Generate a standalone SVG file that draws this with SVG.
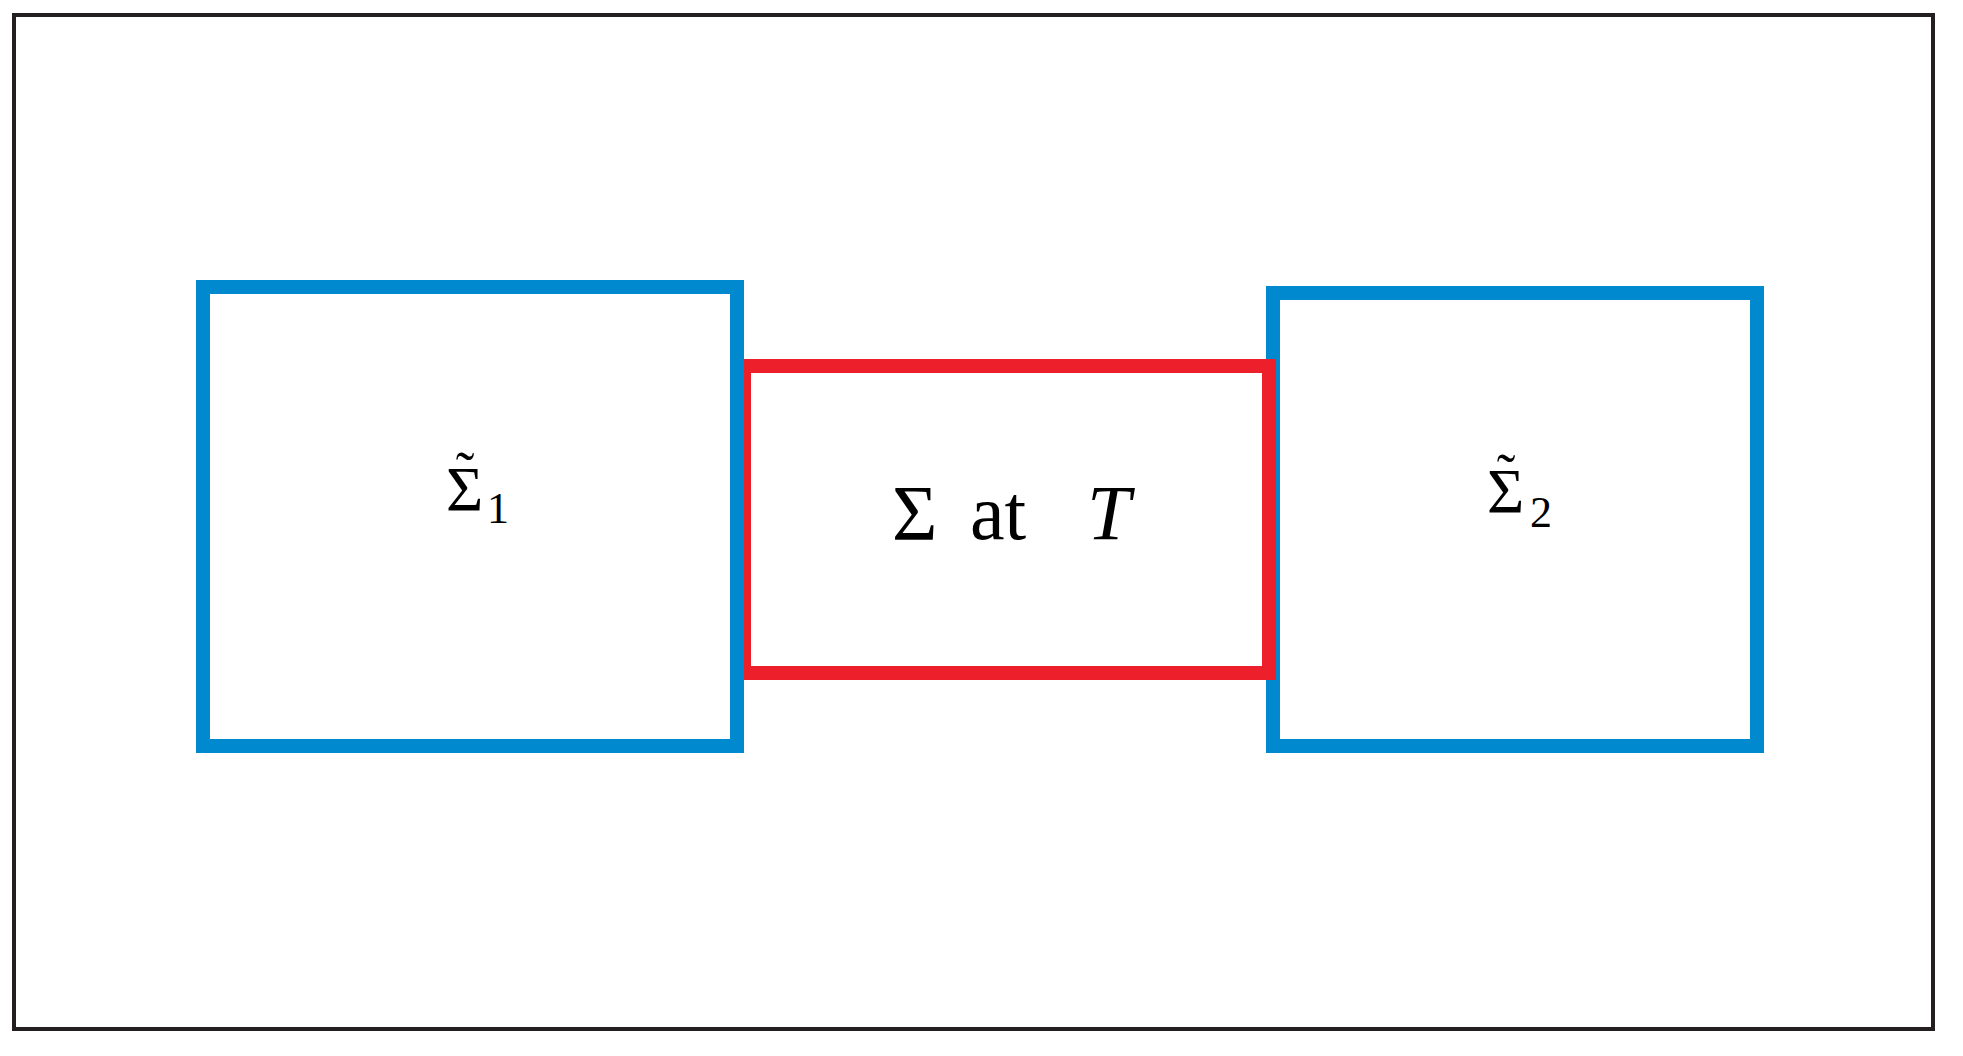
<svg xmlns="http://www.w3.org/2000/svg" width="1963" height="1056" viewBox="0 0 1963 1056">
<style>
.frame{fill:none;stroke:#231f20;stroke-width:4}
.blue{fill:none;stroke:#0089cf;stroke-width:14}
.red{fill:none;stroke:#ed1f2b;stroke-width:14}
.lbl{font-family:"Liberation Serif","DejaVu Serif",serif;fill:#000}
.tl{font-size:56px;text-anchor:middle}
.sub{font-size:44px}
</style>
<rect width="1963" height="1056" fill="#fff"/>
<rect class="frame" x="14" y="15" width="1919" height="1014"/>
<g id="connectors"></g>
<g id="sigma2">
<rect class="blue" x="1273" y="293" width="484" height="453"/>
<text class="lbl" font-size="64"><tspan x="1487" y="513">Σ</tspan><tspan class="tl" x="1506" y="493">˜</tspan><tspan class="sub" x="1530" y="527">2</tspan></text>
</g>
<g id="sigmaT">
<rect class="red" x="744" y="366" width="525" height="307"/>
<text class="lbl" font-size="78"><tspan x="892" y="539">Σ</tspan><tspan x="970" y="539">at</tspan><tspan x="1087" y="539" font-style="italic">T</tspan></text>
</g>
<g id="sigma1">
<rect class="blue" x="203" y="287" width="534" height="459"/>
<text class="lbl" font-size="64"><tspan x="446" y="511">Σ</tspan><tspan class="tl" x="465" y="491">˜</tspan><tspan class="sub" x="487" y="523">1</tspan></text>
</g>
</svg>
